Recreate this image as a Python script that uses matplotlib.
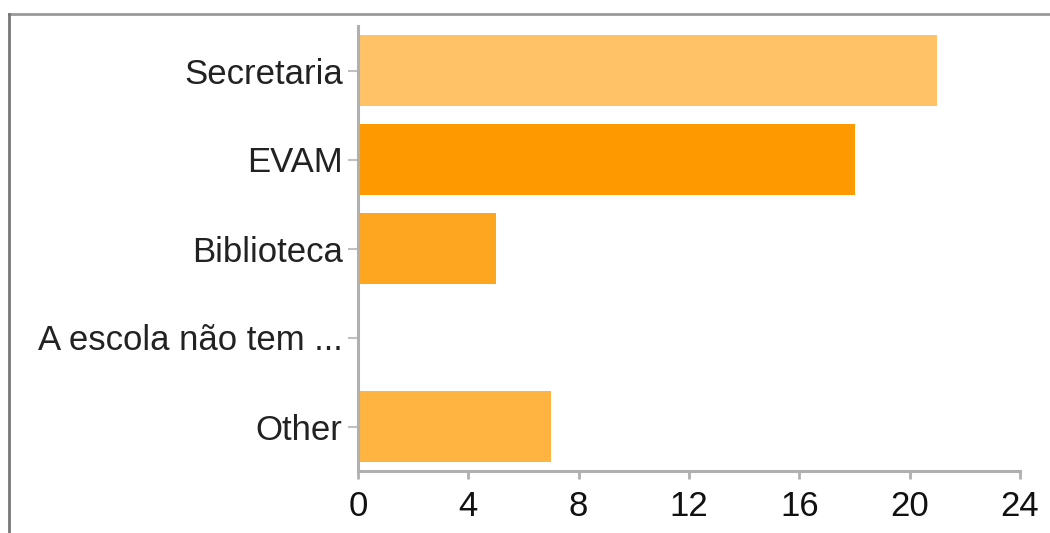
import matplotlib
matplotlib.use("Agg")
import matplotlib.pyplot as plt
from matplotlib.lines import Line2D

categories = ["Secretaria", "EVAM", "Biblioteca", "A escola não tem ...", "Other"]
values = [21, 18, 5, 0, 7]
colors = ["#FFC266", "#FF9900", "#FFA621", "#FFB13B", "#FFB340"]
xticks = [0, 4, 8, 12, 16, 20, 24]

plt.rcParams['font.family'] = ['Liberation Sans', 'DejaVu Sans']

fig = plt.figure(figsize=(10.5, 5.33), dpi=100)
ax = fig.add_axes([358/1050, 1-471/533, (1020-358)/1050, (471-26)/533])

y = list(range(len(categories)))
ax.barh(y, values, height=0.8, color=colors)
ax.set_ylim(len(categories)-0.5, -0.5)
ax.set_xlim(0, 24)
ax.set_xticks(xticks)
ax.set_xticklabels([str(t) for t in xticks])
ax.set_yticks(y)
ax.set_yticklabels(categories)

for s in ["top", "right"]:
    ax.spines[s].set_visible(False)
for s in ["left", "bottom"]:
    ax.spines[s].set_color("#b0b0b0")
    ax.spines[s].set_linewidth(2.2)

ax.tick_params(axis='x', length=6, width=2, color="#b0b0b0", pad=8,
               labelsize=25, labelcolor="#111111")
ax.tick_params(axis='y', length=7, width=1.5, color="#c0c0c0", pad=4,
               labelsize=25, labelcolor="#222222")

# outer border
fig.add_artist(Line2D([9/1050, 1.0], [1-13.5/533, 1-13.5/533], transform=fig.transFigure,
                      color="#999999", linewidth=2))
fig.add_artist(Line2D([9/1050, 9/1050], [0, 1-13.5/533], transform=fig.transFigure,
                      color="#777777", linewidth=2))

fig.savefig("out.png", dpi=100)
